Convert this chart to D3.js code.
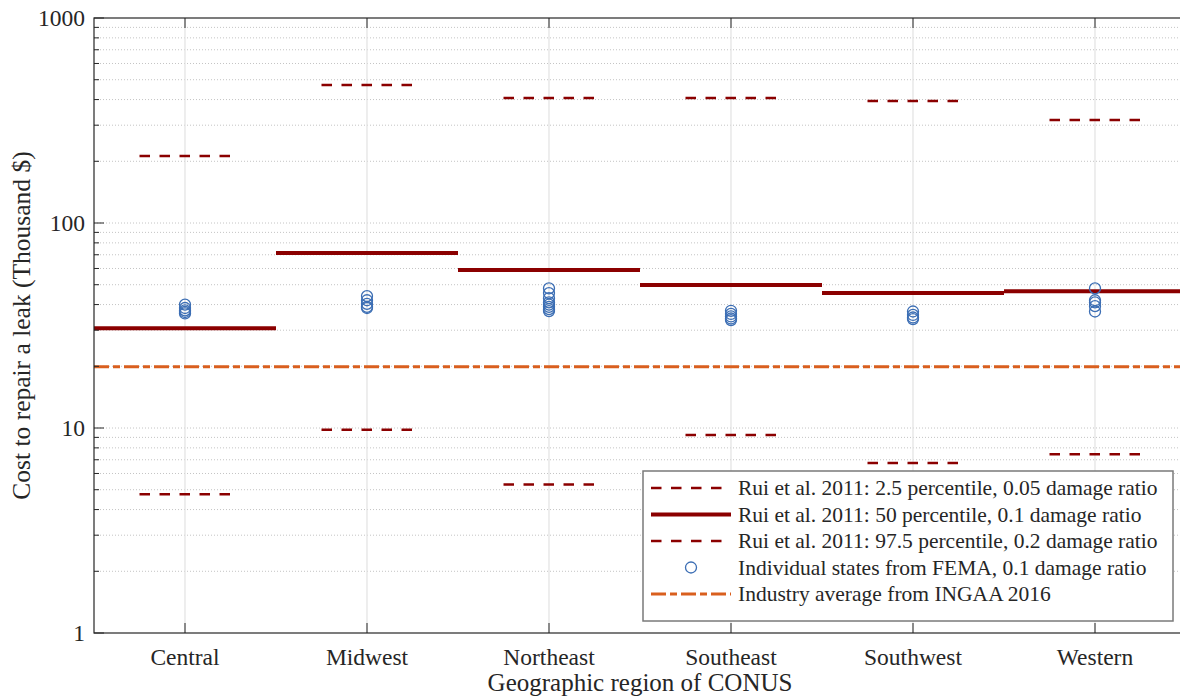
<!DOCTYPE html>
<html>
<head>
<meta charset="utf-8">
<script src="https://cdn.jsdelivr.net/npm/d3@7"></script>
<style>
body { margin: 0; background: #fff; }
svg { display: block; font-family: 'Liberation Serif', 'Times New Roman', serif; }
</style>
</head>
<body>
<svg width="1180" height="698"></svg>
<script>
var regions = ['Central', 'Midwest', 'Northeast', 'Southeast', 'Southwest', 'Western'];
var p025 = [4.75, 9.8, 5.3, 9.25, 6.75, 7.45];
var p50 = [30.7, 71.4, 59, 49.8, 45.6, 46.4];
var p975 = [212, 471, 407, 407, 394, 318];
var ingaa = 19.9;
var femaCentral = [40, 38.5, 37.5, 36.8, 36.2];
var femaMidwest = [44, 42, 40.3, 39, 38.5];
var femaNortheast = [48, 45.5, 43, 41, 40, 39, 38, 37.2];
var femaSoutheast = [37.3, 36, 35, 34.2, 33.6];
var femaSouthwest = [37, 35.6, 34.6, 34];
var femaWestern = [48, 42, 41, 39.3, 37];
var yTicks = [1, 10, 100, 1000];
var legendLabels = [
    'Rui et al. 2011: 2.5 percentile, 0.05 damage ratio',
    'Rui et al. 2011: 50 percentile, 0.1 damage ratio',
    'Rui et al. 2011: 97.5 percentile, 0.2 damage ratio',
    'Individual states from FEMA, 0.1 damage ratio',
    'Industry average from INGAA 2016'
];

var fema = [femaCentral, femaMidwest, femaNortheast, femaSoutheast, femaSouthwest, femaWestern];

var mLeft = 94, mRight = 1186, mTop = 18, mBottom = 633;
var darkRed = '#8b0000', blue = '#3c6eb4', orange = '#d95f1e', axisCol = '#262626';

var scaleX = d3.scaleBand().domain(regions).range([mLeft, mRight]);
var scaleY = d3.scaleLog().domain([1, 1000]).range([mBottom, mTop]);
var bw = scaleX.bandwidth();
function cx(r) { return scaleX(r) + bw / 2; }

var svg = d3.select('svg');

// minor values for grid and ticks
var minor = [];
[1, 10, 100].forEach(function(d) {
    for (var k = 2; k <= 9; k++) minor.push(d * k);
});
var gridVals = minor.concat([10, 100]);

// grid
svg.append('g').selectAll('line')
    .data(gridVals)
    .enter()
    .append('line')
    .attr('x1', mLeft).attr('x2', mRight)
    .attr('y1', function(d){ return scaleY(d) })
    .attr('y2', function(d){ return scaleY(d) })
    .attr('stroke', '#c4c4c4')
    .attr('stroke-width', 1)
    .attr('stroke-dasharray', '1,2');

svg.append('g').selectAll('line')
    .data(regions)
    .enter()
    .append('line')
    .attr('x1', cx).attr('x2', cx)
    .attr('y1', mTop).attr('y2', mBottom)
    .attr('stroke', '#e2e2e2')
    .attr('stroke-width', 1.2);

// INGAA industry average
svg.append('line')
    .attr('x1', mLeft).attr('x2', mRight)
    .attr('y1', scaleY(ingaa)).attr('y2', scaleY(ingaa))
    .attr('stroke', orange)
    .attr('stroke-width', 3)
    .attr('stroke-dasharray', '15,4,7,4');

// percentile lines
svg.append('g').selectAll('line')
    .data(regions)
    .enter()
    .append('line')
    .attr('x1', function(d){ return scaleX(d) })
    .attr('x2', function(d){ return scaleX(d) + bw })
    .attr('y1', function(d, i){ return scaleY(p50[i]) })
    .attr('y2', function(d, i){ return scaleY(p50[i]) })
    .attr('stroke', darkRed)
    .attr('stroke-width', 4);

[p025, p975].forEach(function(arr) {
    svg.append('g').selectAll('line')
        .data(regions)
        .enter()
        .append('line')
        .attr('x1', function(d){ return cx(d) - bw / 4 })
        .attr('x2', function(d){ return cx(d) + bw / 4 })
        .attr('y1', function(d, i){ return scaleY(arr[i]) })
        .attr('y2', function(d, i){ return scaleY(arr[i]) })
        .attr('stroke', darkRed)
        .attr('stroke-width', 2.5)
        .attr('stroke-dasharray', '10.5,9.5');
});

// FEMA states
var pts = [];
regions.forEach(function(r, i) {
    fema[i].forEach(function(v) { pts.push({ region: r, value: v }) });
});
svg.append('g').selectAll('circle')
    .data(pts)
    .enter()
    .append('circle')
    .attr('cx', function(d){ return cx(d.region) })
    .attr('cy', function(d){ return scaleY(d.value) })
    .attr('r', 5.5)
    .attr('fill', 'none')
    .attr('stroke', blue)
    .attr('stroke-width', 1.3);

// axes box
svg.append('rect')
    .attr('x', mLeft).attr('y', mTop)
    .attr('width', mRight - mLeft).attr('height', mBottom - mTop)
    .attr('fill', 'none')
    .attr('stroke', axisCol)
    .attr('stroke-width', 1.2);

// y ticks
svg.append('g').selectAll('line')
    .data(minor)
    .enter()
    .append('line')
    .attr('x1', mLeft).attr('x2', mLeft + 5)
    .attr('y1', function(d){ return scaleY(d) })
    .attr('y2', function(d){ return scaleY(d) })
    .attr('stroke', axisCol);

svg.append('g').selectAll('line')
    .data(yTicks)
    .enter()
    .append('line')
    .attr('x1', mLeft).attr('x2', mLeft + 10)
    .attr('y1', function(d){ return scaleY(d) })
    .attr('y2', function(d){ return scaleY(d) })
    .attr('stroke', axisCol);

svg.append('g').selectAll('text')
    .data(yTicks)
    .enter()
    .append('text')
    .attr('x', mLeft - 9)
    .attr('y', function(d){ return scaleY(d) + 8 })
    .attr('text-anchor', 'end')
    .attr('font-size', 23.5)
    .attr('fill', axisCol)
    .text(function(d){ return d });

// x ticks
svg.append('g').selectAll('line')
    .data(regions)
    .enter()
    .append('line')
    .attr('x1', cx).attr('x2', cx)
    .attr('y1', mBottom).attr('y2', mBottom - 10)
    .attr('stroke', axisCol);

svg.append('g').selectAll('line')
    .data(regions)
    .enter()
    .append('line')
    .attr('x1', cx).attr('x2', cx)
    .attr('y1', mTop).attr('y2', mTop + 10)
    .attr('stroke', axisCol);

svg.append('g').selectAll('text')
    .data(regions)
    .enter()
    .append('text')
    .attr('x', cx)
    .attr('y', 665)
    .attr('text-anchor', 'middle')
    .attr('font-size', 23.5)
    .attr('fill', axisCol)
    .text(function(d){ return d });

// axis titles
svg.append('text')
    .attr('x', 640)
    .attr('y', 691)
    .attr('text-anchor', 'middle')
    .attr('font-size', 25)
    .attr('fill', axisCol)
    .text('Geographic region of CONUS');

svg.append('text')
    .attr('transform', 'translate(30,' + ((mTop + mBottom) / 2) + ') rotate(270)')
    .attr('text-anchor', 'middle')
    .attr('font-size', 25.5)
    .attr('fill', axisCol)
    .text('Cost to repair a leak (Thousand $)');

// legend
var lg = svg.append('g').attr('transform', 'translate(643,471)');
lg.append('rect')
    .attr('width', 530).attr('height', 150)
    .attr('fill', '#fff')
    .attr('stroke', '#7a7a7a')
    .attr('stroke-width', 1.5);

var rowY = function(i){ return 17 + i * 26.5 };
var styles = [
    { stroke: darkRed, w: 2.5, dash: '10.5,9.5' },
    { stroke: darkRed, w: 4, dash: null },
    { stroke: darkRed, w: 2.5, dash: '10.5,9.5' },
    null,
    { stroke: orange, w: 3, dash: '15,4,7,4' }
];
legendLabels.forEach(function(t, i) {
    var s = styles[i];
    if (s) {
        lg.append('line')
            .attr('x1', 8).attr('x2', 88)
            .attr('y1', rowY(i)).attr('y2', rowY(i))
            .attr('stroke', s.stroke)
            .attr('stroke-width', s.w)
            .attr('stroke-dasharray', s.dash);
    } else {
        lg.append('circle')
            .attr('cx', 48).attr('cy', rowY(i))
            .attr('r', 5.5)
            .attr('fill', 'none')
            .attr('stroke', blue)
            .attr('stroke-width', 1.3);
    }
    lg.append('text')
        .attr('x', 95)
        .attr('y', rowY(i) + 7)
        .attr('font-size', 21.5)
        .attr('fill', axisCol)
        .text(t);
});
</script>
</body>
</html>
